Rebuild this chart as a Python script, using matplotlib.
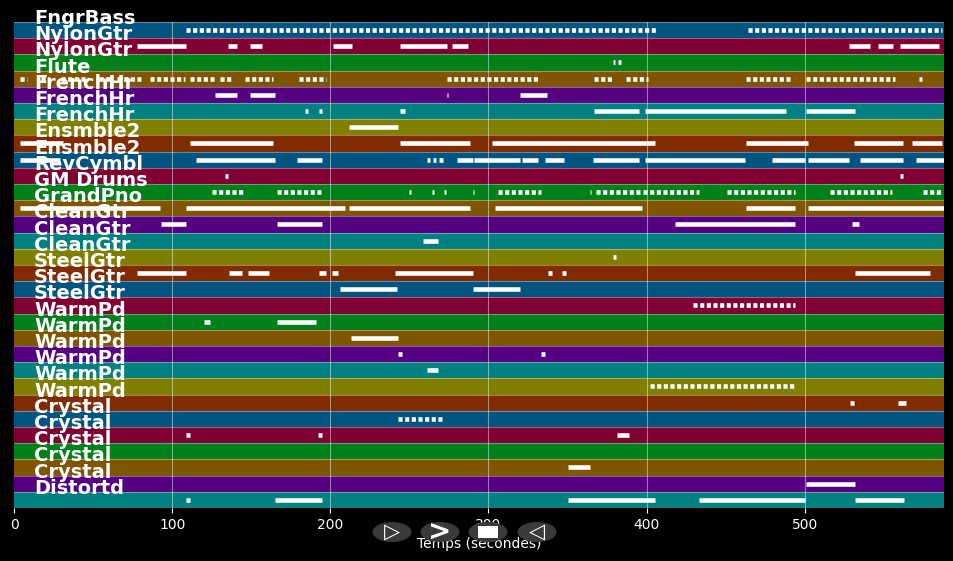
import matplotlib.pyplot as plt
from matplotlib.patches import Ellipse, Rectangle

# track names (one per band, top to bottom)
labels = ['FngrBass', 'NylonGtr', 'NylonGtr', 'Flute', 'FrenchHr', 'FrenchHr',
          'FrenchHr', 'Ensmble2', 'Ensmble2', 'RevCymbl', 'GM Drums', 'GrandPno',
          'CleanGtr', 'CleanGtr', 'CleanGtr', 'SteelGtr', 'SteelGtr', 'SteelGtr',
          'WarmPd', 'WarmPd', 'WarmPd', 'WarmPd', 'WarmPd', 'WarmPd',
          'Crystal', 'Crystal', 'Crystal', 'Crystal', 'Crystal', 'Distortd']

# note spans (start, end) in seconds for each band
notes = [
    [(109, 406), (464, 587)],
    [(78, 109), (135, 141), (149, 157), (202, 214), (244, 274), (277, 287),
     (528, 541), (546, 556), (560, 585)],
    [(378.5, 380), (382, 383.7)],
    [(4, 8), (17, 23), (30, 47), (54, 62), (65, 80), (86, 108), (111, 128),
     (130, 137), (146, 164), (180, 197), (274, 332), (367, 378), (387, 401),
     (463, 492), (501, 557), (572, 574)],
    [(127, 141), (149, 165), (273.5, 274.5), (320, 337)],
    [(184, 186), (193, 195), (244, 247), (367, 395), (399, 488), (501, 532)],
    [(212, 243)],
    [(4, 31), (111, 164), (244, 288), (302, 405), (463, 502), (531, 562), (568, 587)],
    [(4, 29), (115, 165), (179, 195), (261, 263), (265, 267), (269, 271),
     (280, 290), (291, 320), (321, 331), (336, 348), (366, 395), (399, 462),
     (479, 500), (502, 528), (535, 562), (570, 588)],
    [(133.5, 135), (560.5, 562)],
    [(125, 146), (166, 195), (250, 251), (264.5, 265.5), (272, 273), (290, 291),
     (306, 333), (364, 365), (368, 396), (398, 433), (451, 494), (516, 555), (575, 586)],
    [(4, 92), (109, 209), (212, 288), (304, 397), (463, 494), (502, 588)],
    [(93, 109), (166, 195), (418, 494), (530, 534)],
    [(258.5, 268)],
    [(379, 380.5)],
    [(78, 109), (136, 144), (148, 161), (193, 197), (201, 205), (241, 290),
     (337.5, 340), (346.5, 349), (532, 579)],
    [(206, 242), (290, 320)],
    [(429, 494)],
    [(120, 124), (166, 191)],
    [(213, 243)],
    [(243, 245), (333.5, 335.5)],
    [(261, 268)],
    [(402, 494)],
    [(528.5, 531), (559, 564)],
    [(243, 271)],
    [(109, 111), (192.5, 194.5), (381, 389)],
    [],
    [(350, 364)],
    [(501, 532)],
    [(109, 111), (165, 195), (350, 405), (433, 500), (532, 563)],
]

duration = 588
xticks = [0, 100, 200, 300, 400, 500]
band_colors = ['#005580', '#800033', '#00801a', '#805500',
               '#550080', '#008080', '#808000', '#802b00']
dotted_bands = [0, 3, 10, 17, 22, 24]

n = len(labels)

fig = plt.figure(figsize=(9.54, 5.61), dpi=100, facecolor='black')
ax = fig.add_axes([0.0147, 0.0945, 0.9748, 0.8663])
ax.set_facecolor('black')

# coloured track bands
ax.barh(range(n), [duration] * n, left=0, height=1,
        color=[band_colors[i % 8] for i in range(n)], zorder=1)
for i in range(n + 1):
    ax.axhline(i - 0.5, color='white', alpha=0.35, lw=0.8, zorder=2)
for t in xticks[1:]:
    ax.axvline(t, color='white', alpha=0.45, lw=0.8, zorder=2)

# notes
for i, spans in enumerate(notes):
    ls = (0, (0.9, 0.55)) if i in dotted_bands else 'solid'
    for a, b in spans:
        ax.hlines(i, a, b, color='white', lw=3.3, linestyles=ls, zorder=3,
                  capstyle='butt')

# track names
for i, name in enumerate(labels):
    ax.text(12.6, i - 0.72, name, color='white', fontsize=14, fontweight='bold',
            va='center', ha='left', zorder=5, clip_on=False)

ax.set_xlim(0, duration)
ax.set_ylim(n - 0.5, -0.5)
ax.set_yticks([])
ax.set_xticks(xticks)
ax.tick_params(axis='x', colors='white', labelsize=10, length=3.5)
for s in ax.spines.values():
    s.set_visible(False)
ax.set_xlabel('Temps (secondes)', color='white', fontsize=10)

# player buttons
W, H = 954, 561
btn_x = [392, 440, 488, 537]
btn_y = 532
for bx in btn_x:
    fig.patches.append(Ellipse((bx / W, 1 - btn_y / H), 39 / W, 20 / H,
                               transform=fig.transFigure, fc='#3a3a3a',
                               ec='none', zorder=10))
fig.text(btn_x[0] / W, 1 - btn_y / H, '▷', color='white', fontsize=15,
         fontweight='bold', ha='center', va='center', zorder=11)
fig.text(btn_x[1] / W, 1 - btn_y / H, '>', color='white', fontsize=20,
         fontweight='bold', ha='center', va='center', zorder=11)
fig.patches.append(Rectangle(((btn_x[2] - 10) / W, 1 - (btn_y + 6) / H), 20 / W, 12 / H,
                             transform=fig.transFigure, fc='white', ec='none', zorder=11))
fig.text(btn_x[3] / W, 1 - btn_y / H, '◁', color='white', fontsize=15,
         fontweight='bold', ha='center', va='center', zorder=11)

fig.savefig('out.png', dpi=100, facecolor='black')
